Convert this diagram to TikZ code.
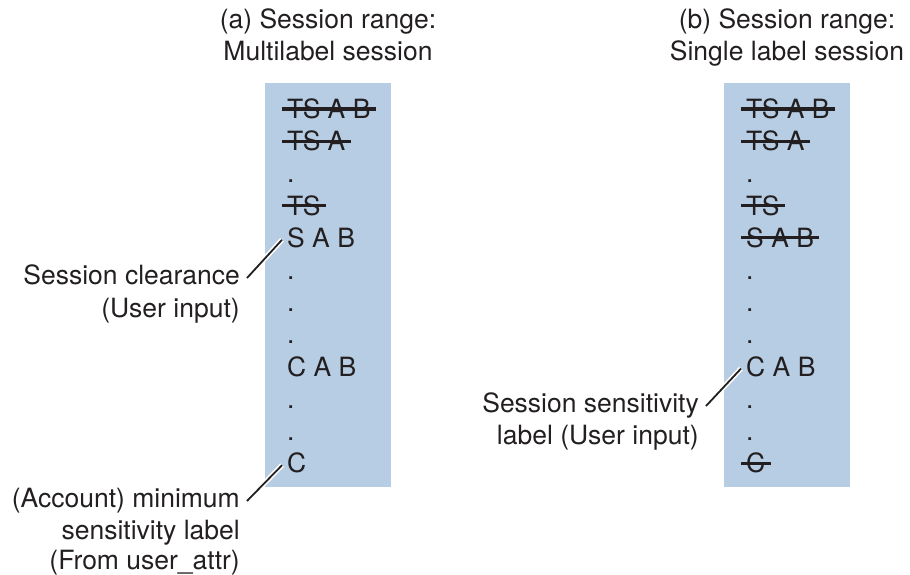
\documentclass[tikz,border=0pt]{standalone}
\usepackage{fontspec}
\setmainfont{TeX Gyre Heros}
\definecolor{rangeblue}{RGB}{183,205,227}
\definecolor{inkgray}{RGB}{35,31,32}

\begin{document}
\begin{tikzpicture}[x=1pt,y=-1pt,
    every node/.style={font=\fontsize{26.5}{32}\selectfont, text=inkgray},
    lvl/.style={anchor=west, inner xsep=5pt, inner ysep=0pt, text height=19pt, text depth=0pt},
    note/.style={anchor=east, inner xsep=7pt, inner ysep=0pt, text height=19pt, text depth=0pt},
    head/.style={anchor=center, inner sep=0pt, text height=19pt, text depth=0pt},
    strike/.style={inkgray, line width=3.3pt},
    leader/.style={inkgray, line width=1.8pt, preaction={draw=white, line width=5pt}}]
        \useasboundingbox (0,0) rectangle (910,574);
        \fill[rangeblue] (265,83) rectangle (391,487);
        \fill[rangeblue] (724,83) rectangle (850,487);
        % titles
        \node[head] (ta) at (328,19) {(a) Session range:};
        \node[head] (tab) at (328,51) {Multilabel session};
        \node[head] (tb) at (787,19) {(b) Session range:};
        \node[head] (tbb) at (787,51) {Single label session};
        % levels, struck out where 1
        \foreach \i/\t/\l/\r in {0/TS A B/1/1, 1/TS A/1/1, 2/./0/0, 3/TS/1/1, 4/S A B/0/1, 5/./0/0,
                6/./0/0, 7/./0/0, 8/C A B/0/0, 9/./0/0, 10/./0/0, 11/C/0/1} {
                \node[lvl] (a\i) at (282,109+32.2*\i) {\t};
                \node[lvl] (b\i) at (741,109+32.2*\i) {\t};
                \ifnum\l=1 \draw[strike] (a\i.west) -- (a\i.east); \fi
                \ifnum\r=1 \draw[strike] (b\i.west) -- (b\i.east); \fi
            }
        % labels
        \node[note] (clr) at (247,275) {Session clearance};
        \node[note] (clrb) at (247,307.5) {(User input)};
        \node[note] (acct) at (247,498) {(Account) minimum};
        \node[note] (acctb) at (247,530) {sensitivity label};
        \node[note] (acctc) at (247,560) {(From user\_attr)};
        \node[note] (sens) at (706,403) {Session sensitivity};
        \node[note] (sensb) at (706,435) {label (User input)};
        \draw[leader] ([yshift=-3pt]clr.east) -- ([yshift=-2pt]a4.west);
        \draw[leader] ([yshift=-3pt]acct.east) -- ([yshift=-2pt]a11.west);
        \draw[leader] ([yshift=-3pt]sens.east) -- ([yshift=-2pt]b8.west);
    \end{tikzpicture}
\end{document}
